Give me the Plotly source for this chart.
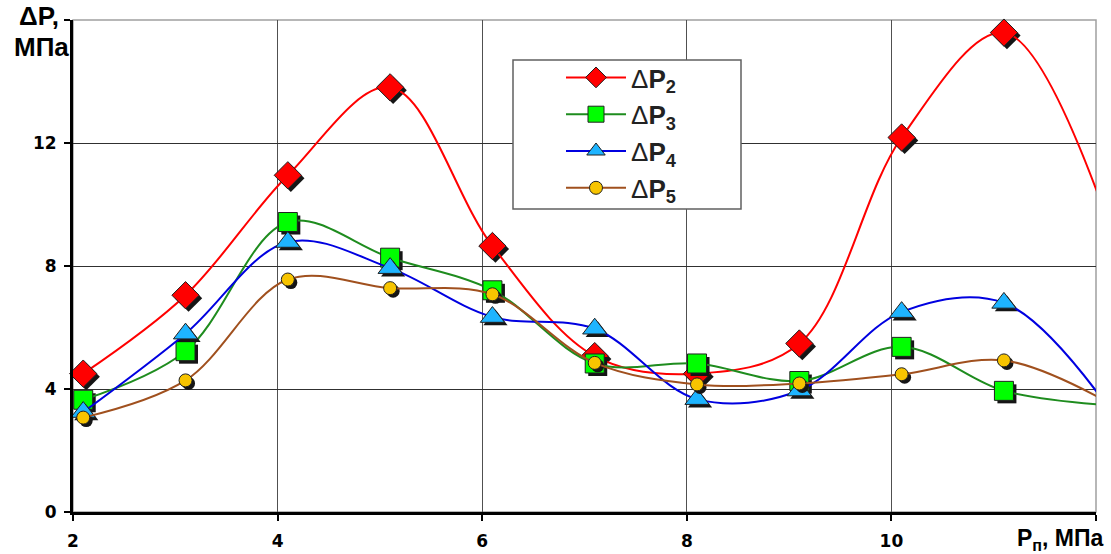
import plotly.graph_objects as go

x = [2.1, 3.1, 4.1, 5.1, 6.1, 7.1, 8.1, 9.1, 10.1, 11.1, 12.1]
dp2 = [4.50, 7.05, 10.95, 13.81, 8.65, 5.07, 4.50, 5.48, 12.18, 15.59, 9.6]
dp3 = [3.65, 5.23, 9.43, 8.27, 7.21, 4.83, 4.83, 4.26, 5.37, 3.94, 3.48]
dp4 = [3.25, 5.80, 8.78, 7.93, 6.34, 5.96, 3.67, 3.95, 6.50, 6.80, 3.50]
dp5 = [3.07, 4.28, 7.56, 7.28, 7.08, 4.85, 4.15, 4.18, 4.48, 4.93, 3.60]

names = ["Δ<b>P</b><sub><b>2</b></sub>", "Δ<b>P</b><sub><b>3</b></sub>",
         "Δ<b>P</b><sub><b>4</b></sub>", "Δ<b>P</b><sub><b>5</b></sub>"]
line_colors = ["#FF0000", "#1E8C1E", "#0000E0", "#A0501E"]
fill_colors = ["#FF0000", "#00FF00", "#1EB4FF", "#F7C400"]
symbols = ["diamond", "square", "triangle-up", "circle"]
sizes = [21, 19, 21, 13]

x_ticks = [2, 4, 6, 8, 10, 12]
x_ticklabels = ["2", "4", "6", "8", "10", ""]
y_ticks = [0, 4, 8, 12, 16]
y_ticklabels = ["0", "4", "8", "12", ""]

TICKFONT = dict(size=17, family="DejaVu Sans, Verdana, sans-serif", color="black", weight="bold")
LABFONT = "Liberation Sans, Arial, sans-serif"

# pixel geometry of plot area
L, R, T, B = 73, 15, 20, 42
PW, PH = 1111 - L - R, 554 - T - B
XR, YR = [2, 12], [0, 16]
SH_DX = 3 * (XR[1] - XR[0]) / PW      # 3 px shadow offset in data units
SH_DY = 3 * (YR[1] - YR[0]) / PH

fig = go.Figure()
series = [dp2, dp3, dp4, dp5]
for i, ys in enumerate(series):
    # marker drop shadow
    fig.add_trace(go.Scatter(
        x=[v + SH_DX for v in x], y=[v - SH_DY for v in ys], mode="markers",
        showlegend=False, hoverinfo="skip",
        marker=dict(symbol=symbols[i], size=sizes[i], color="#151515",
                    line=dict(width=0)),
        cliponaxis=False,
    ))
    fig.add_trace(go.Scatter(
        x=x, y=ys, name=names[i], mode="lines+markers",
        line=dict(color=line_colors[i], width=2, shape="spline", smoothing=1.0),
        marker=dict(symbol=symbols[i], size=sizes[i], color=fill_colors[i],
                    line=dict(color="#202020", width=1)),
        cliponaxis=False,
    ))

# plot frame (top/right light border)
fig.add_shape(type="rect", xref="paper", yref="paper", x0=0, x1=1, y0=0, y1=1,
              line=dict(color="#A0A0A0", width=1.5), layer="below")
# legend box
fig.add_shape(type="rect", xref="paper", yref="paper",
              x0=(513 - L) / PW, x1=(741 - L) / PW,
              y0=(554 - B - 209) / PH, y1=(554 - B - 60) / PH,
              line=dict(color="#606060", width=1.5), fillcolor="white", layer="above")

fig.update_layout(
    width=1111, height=554,
    margin=dict(l=L, r=R, t=T, b=B, autoexpand=False),
    paper_bgcolor="white", plot_bgcolor="white",
    font=dict(family=LABFONT, color="black"),
    showlegend=True,
    legend=dict(
        x=(561 - L) / PW, y=(554 - B - 54) / PH, xanchor="left", yanchor="top",
        bgcolor="rgba(0,0,0,0)", borderwidth=0,
        font=dict(size=26, family=LABFONT, color="#222"),
        tracegroupgap=0, itemwidth=60,
    ),
    xaxis=dict(
        range=XR, tickvals=x_ticks, ticktext=x_ticklabels, automargin=False,
        showgrid=True, gridcolor="#505050", gridwidth=1,
        showline=True, linecolor="black", linewidth=3,
        ticks="outside", ticklen=6, tickwidth=2, tickcolor="black",
        tickfont=TICKFONT, ticklabelstandoff=6,
        zeroline=False,
    ),
    yaxis=dict(
        range=YR, tickvals=y_ticks, ticktext=y_ticklabels, automargin=False,
        showgrid=True, gridcolor="#303030", gridwidth=1,
        showline=True, linecolor="black", linewidth=3,
        ticks="outside", ticklen=6, tickwidth=2, tickcolor="black",
        tickfont=TICKFONT, ticklabelstandoff=4,
        zeroline=False,
    ),
)

fig.add_annotation(xref="paper", yref="paper", x=-0.012, y=1.042, xanchor="right", yanchor="top",
                   text="<b>ΔP,</b>", showarrow=False,
                   font=dict(size=26, family=LABFONT, color="black"))
fig.add_annotation(xref="paper", yref="paper", x=-0.002, y=0.98, xanchor="right", yanchor="top",
                   text="<b>МПа</b>", showarrow=False,
                   font=dict(size=26, family=LABFONT, color="black"))
fig.add_annotation(xref="paper", yref="paper", x=(1106 - L) / PW, y=-0.022, xanchor="right", yanchor="top",
                   text="<b>P<sub>п</sub>, МПа</b>", showarrow=False,
                   font=dict(size=23, family=LABFONT, color="black"))

fig.write_html("out.html", config={"displayModeBar": False},
               post_script="document.body.style.margin='0';")
